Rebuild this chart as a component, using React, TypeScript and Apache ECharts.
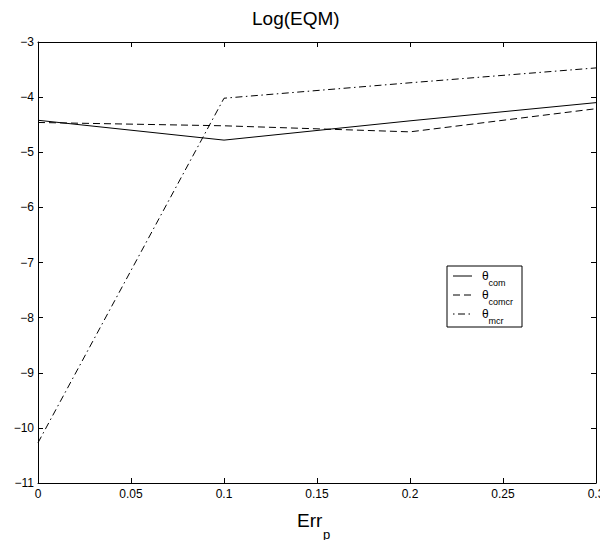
import React, { useEffect, useRef } from 'react';
import * as echarts from 'echarts';

const errP = [0, 0.1, 0.2, 0.3];
const thetaCom = [-4.42, -4.78, -4.43, -4.1];
const thetaComcr = [-4.46, -4.52, -4.63, -4.21];
const thetaMcr = [-10.27, -4.02, -3.74, -3.47];
const seriesNames = ['θcom', 'θcomcr', 'θmcr'];
const legendSubs = ['com', 'comcr', 'mcr'];
const titleText = 'Log(EQM)';
const xName = 'Err';
const xNameSub = 'p';

const FONT = "'Liberation Sans', Arial, Helvetica, sans-serif";
const DASHES: any[] = ['solid', [7, 4], [7, 3.5, 1.5, 3.5]];
const LEGEND_DASH: any[] = [null, [7, 4], [1.5, 3.5, 7, 3.5]];

function pairs(ys: number[]) {
  return errP.map((x, i) => [x, ys[i]]);
}

export default function App() {
  const ref = useRef<HTMLDivElement>(null);
  useEffect(() => {
    if (!ref.current) return;
    const chart = echarts.init(ref.current, undefined, { renderer: 'svg' });
    const axisCommon = {
      axisLine: { show: true, onZero: false, lineStyle: { color: '#000', width: 1 } },
      axisTick: { show: true, inside: true, length: 5, lineStyle: { color: '#000', width: 1 } },
      splitLine: { show: false },
    };
    const allSeries = [thetaCom, thetaComcr, thetaMcr];
    const legendRows = [276, 295, 314];
    const graphics: any[] = [
      {
        type: 'rect',
        shape: { x: 447, y: 266, width: 75, height: 61 },
        style: { fill: '#fff', stroke: '#000', lineWidth: 1 },
        z: 100,
      },
    ];
    legendRows.forEach((y, i) => {
      graphics.push({
        type: 'line',
        shape: { x1: 453, y1: y, x2: 472, y2: y },
        style: { stroke: '#000', lineWidth: 1, lineDash: LEGEND_DASH[i] },
        z: 101,
      });
      graphics.push({
        type: 'text',
        x: 482,
        y: y,
        style: { text: 'θ', fontSize: 12, fontFamily: FONT, fill: '#000', align: 'left', verticalAlign: 'middle' },
        z: 101,
      });
      graphics.push({
        type: 'text',
        x: 488.5,
        y: y + 7,
        style: { text: legendSubs[i], fontSize: 9, fontFamily: FONT, fill: '#000', align: 'left', verticalAlign: 'middle' },
        z: 101,
      });
    });
    graphics.push({
      type: 'text',
      x: 297,
      y: 520,
      style: { text: xName, fontSize: 19, fontFamily: FONT, fill: '#000', align: 'left', verticalAlign: 'middle' },
    });
    graphics.push({
      type: 'text',
      x: 323,
      y: 534,
      style: { text: xNameSub, fontSize: 13, fontFamily: FONT, fill: '#000', align: 'left', verticalAlign: 'middle' },
    });

    chart.setOption({
      animation: false,
      backgroundColor: '#fff',
      title: {
        text: titleText,
        left: 252,
        top: 9,
        padding: 0,
        textStyle: { fontSize: 19, fontWeight: 'normal', color: '#000', fontFamily: FONT },
      },
      grid: { left: 38, right: 4, top: 42, bottom: 57, containLabel: false, outerBoundsMode: 'none' },
      xAxis: [
        {
          type: 'value',
          position: 'bottom',
          min: 0,
          max: 0.3,
          interval: 0.05,
          ...axisCommon,
          axisLabel: { color: '#000', fontSize: 12, fontFamily: FONT, margin: 5 },
        },
        {
          type: 'value',
          position: 'top',
          min: 0,
          max: 0.3,
          interval: 0.05,
          ...axisCommon,
          axisLabel: { show: false },
        },
      ],
      yAxis: [
        {
          type: 'value',
          position: 'left',
          min: -11,
          max: -3,
          interval: 1,
          ...axisCommon,
          axisLabel: {
            color: '#000',
            fontSize: 12,
            fontFamily: FONT,
            margin: 4,
            formatter: (v: number) => String(v).replace('-', '−'),
          },
        },
        {
          type: 'value',
          position: 'right',
          min: -11,
          max: -3,
          interval: 1,
          ...axisCommon,
          axisLabel: { show: false },
        },
      ],
      series: allSeries.map((ys, i) => ({
        name: seriesNames[i],
        type: 'line',
        xAxisIndex: 0,
        yAxisIndex: 0,
        data: pairs(ys),
        symbol: 'none',
        lineStyle: { color: '#000', width: 1, type: DASHES[i] },
        z: 3,
      })),
      graphic: graphics,
    });
    return () => chart.dispose();
  }, []);
  return (
    <div
      ref={ref}
      style={{ position: 'absolute', left: 0, top: 0, width: 600, height: 540, background: '#fff' }}
    />
  );
}
